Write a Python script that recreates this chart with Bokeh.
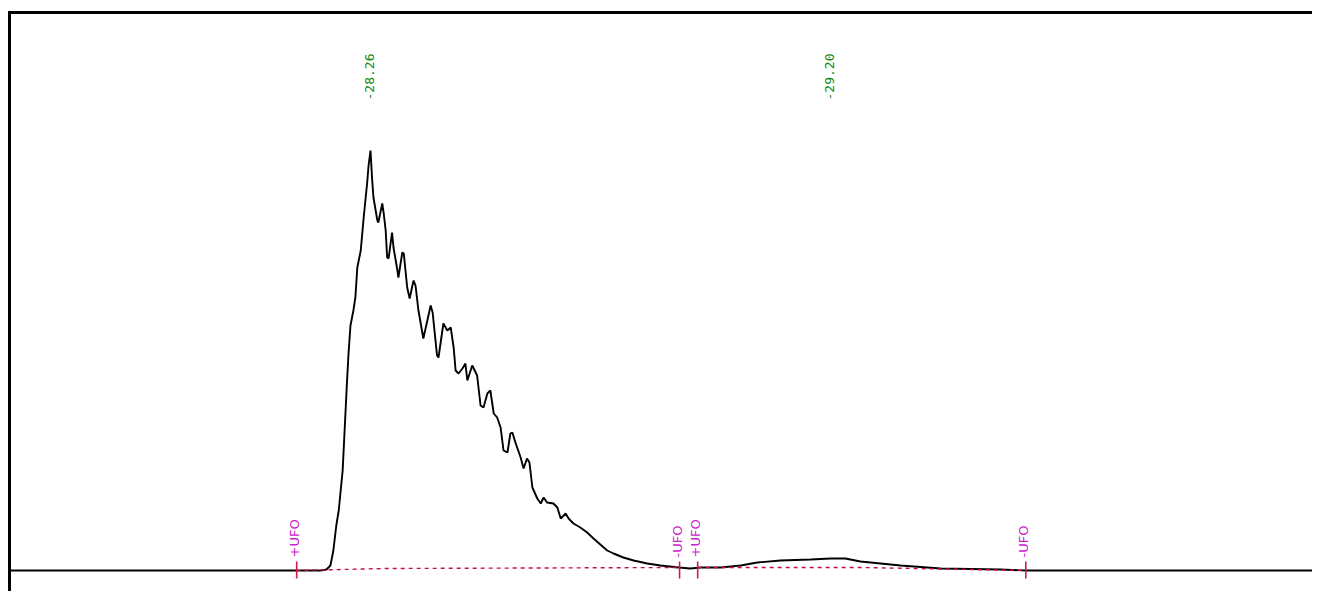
from bokeh.plotting import figure
from bokeh.models import Range1d, ColumnDataSource
from bokeh.core.properties import value
from bokeh.embed import file_html
from bokeh.resources import INLINE
import math

# ---- data (retention time in minutes, detector signal in arbitrary units) ----
trace_time = [27.520, 28.158, 28.170, 28.178, 28.184, 28.190, 28.195, 28.199, 28.203, 28.207,
              28.211, 28.215, 28.219, 28.225, 28.229, 28.233, 28.240, 28.246, 28.253, 28.256,
              28.260, 28.263, 28.266, 28.274, 28.276, 28.284, 28.287, 28.291, 28.294, 28.297,
              28.304, 28.307, 28.315, 28.317, 28.325, 28.328, 28.335, 28.340, 28.348, 28.352,
              28.358, 28.368, 28.383, 28.387, 28.396, 28.399, 28.409, 28.417, 28.424, 28.430,
              28.434, 28.440, 28.448, 28.454, 28.458, 28.468, 28.478, 28.485, 28.491, 28.499,
              28.505, 28.512, 28.519, 28.526, 28.532, 28.540, 28.546, 28.550, 28.557, 28.567,
              28.573, 28.580, 28.585, 28.591, 28.601, 28.608, 28.614, 28.621, 28.634, 28.642,
              28.649, 28.659, 28.665, 28.675, 28.689, 28.703, 28.716, 28.730, 28.744, 28.757,
              28.777, 28.798, 28.826, 28.853, 28.890, 28.914, 28.935, 28.976, 29.017, 29.051,
              29.098, 29.160, 29.201, 29.231, 29.262, 29.303, 29.344, 29.426, 29.548, 29.600,
              30.230]
trace_signal = [0, 0, 1, 5, 20, 45, 60, 80, 100, 140,
                180, 217, 245, 260, 273, 303, 320, 353, 387, 405,
                420, 393, 373, 350, 348, 367, 357, 340, 313, 312,
                338, 323, 300, 293, 318, 317, 283, 272, 290, 285,
                260, 232, 265, 258, 215, 213, 247, 240, 243, 223,
                200, 197, 202, 207, 190, 205, 195, 165, 163, 177,
                180, 157, 153, 143, 120, 118, 137, 138, 127, 113,
                102, 112, 108, 83, 72, 67, 73, 68, 67, 63,
                52, 57, 52, 47, 43, 38, 32, 26, 20, 17,
                13, 10, 7, 5, 3, 2, 3, 3, 5, 8,
                10, 11, 12, 12, 9, 7, 5, 2, 1, 0,
                0]

peak_times = [28.26, 29.20]
peak_labels = ["-28.26", "-29.20"]

event_times = [28.109, 28.892, 28.929, 29.600]
event_labels = ["+UFO", "-UFO", "+UFO", "-UFO"]

base1_time = [28.109, 28.291, 28.892]
base1_signal = [0, 2, 3]
base2_time = [28.929, 29.262, 29.600]
base2_signal = [3, 3, 0]

# ---- figure ----
px_per_min = 489.0
x0 = 27.5033
x1 = x0 + 1312 / px_per_min
y0, y1 = -21, 570
p = figure(width=1312, height=591, x_range=Range1d(x0, x1), y_range=Range1d(y0, y1),
           min_border=0, toolbar_location=None, output_backend="svg")
p.axis.visible = False
p.grid.visible = False
p.outline_line_color = None
p.background_fill_color = "white"
p.border_fill_color = "white"

# frame (left and top edges, meeting at the corner)
frame_left = x0 + 9.0 / px_per_min
frame_top = 558
p.line([frame_left, frame_left, x1 + 1], [y0 - 10, frame_top, frame_top],
       line_color="black", line_width=3, line_join="miter")

# chromatogram trace
p.line(trace_time, trace_signal, line_color="black", line_width=1.9)

# integration baselines
p.line(base1_time, base1_signal, line_color="#c8103c", line_width=1.4, line_dash="4 4")
p.line(base2_time, base2_signal, line_color="#c8103c", line_width=1.4, line_dash="4 4")

# event ticks
p.segment(x0=event_times, y0=[9] * 4, x1=event_times, y1=[-8] * 4,
          line_color="#d01848", line_width=1.6)

# event labels
ev_src = ColumnDataSource(dict(x=event_times, y=[13] * 4, t=event_labels))
p.text(x="x", y="y", text="t", source=ev_src, angle=math.pi / 2,
       text_align="left", text_baseline="middle", x_offset=-2,
       text_color="#cc22cc", text_font=value("DejaVu Sans"), text_font_size="13px")

# peak labels
pk_src = ColumnDataSource(dict(x=peak_times, y=[470, 470], t=peak_labels))
p.text(x="x", y="y", text="t", source=pk_src, angle=math.pi / 2,
       text_align="left", text_baseline="middle", x_offset=-1,
       text_color="#108a10", text_font=value("DejaVu Sans Mono"), text_font_size="13px")

open("out.html", "w").write(file_html(p, INLINE))
